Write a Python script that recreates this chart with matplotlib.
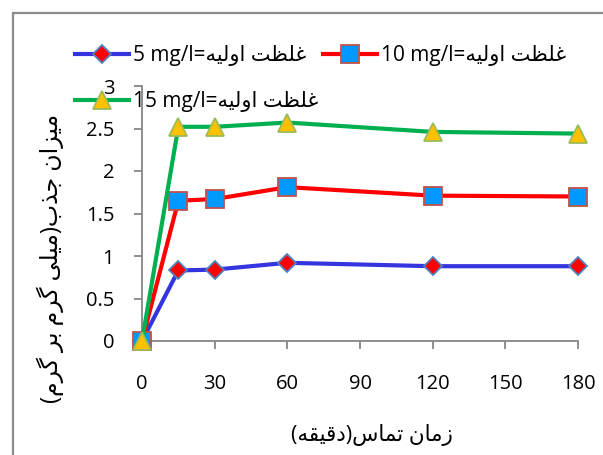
import matplotlib
matplotlib.use('Agg')
import matplotlib.pyplot as plt
from matplotlib.patches import Rectangle


# contact time (min) and adsorbed amount (mg/g) for three initial concentrations
TIME = [0, 15, 30, 60, 120, 180]
Q_5 = [0, 0.83, 0.84, 0.92, 0.88, 0.88]
Q_10 = [0, 1.65, 1.67, 1.81, 1.71, 1.70]
Q_15 = [0, 2.52, 2.52, 2.57, 2.46, 2.44]
CONC_LABELS = ['5 mg/l', '10 mg/l', '15 mg/l']
LEGEND_WORD = 'غلظت اولیه'
X_LABEL = 'زمان تماس(دقیقه)'
Y_LABEL = 'میزان جذب(میلی گرم بر گرم)'
X_TICKS = [0, 30, 60, 90, 120, 150, 180]
Y_TICKS = [0, 0.5, 1, 1.5, 2, 2.5, 3]

TICK_SIZE = 14.5
LEGEND_SIZE = 15
AXIS_GREY = '#868686'

# isolated, final, initial, medial presentation forms
FORMS = {
    'ا': (0xFE8D, 0xFE8E, None, None),
    'ب': (0xFE8F, 0xFE90, 0xFE91, 0xFE92),
    'ت': (0xFE95, 0xFE96, 0xFE97, 0xFE98),
    'ج': (0xFE9D, 0xFE9E, 0xFE9F, 0xFEA0),
    'د': (0xFEA9, 0xFEAA, None, None),
    'ذ': (0xFEAB, 0xFEAC, None, None),
    'ر': (0xFEAD, 0xFEAE, None, None),
    'ز': (0xFEAF, 0xFEB0, None, None),
    'س': (0xFEB1, 0xFEB2, 0xFEB3, 0xFEB4),
    'ظ': (0xFEC5, 0xFEC6, 0xFEC7, 0xFEC8),
    'غ': (0xFECD, 0xFECE, 0xFECF, 0xFED0),
    'ق': (0xFED5, 0xFED6, 0xFED7, 0xFED8),
    'ل': (0xFEDD, 0xFEDE, 0xFEDF, 0xFEE0),
    'م': (0xFEE1, 0xFEE2, 0xFEE3, 0xFEE4),
    'ن': (0xFEE5, 0xFEE6, 0xFEE7, 0xFEE8),
    'ه': (0xFEE9, 0xFEEA, 0xFEEB, 0xFEEC),
    'و': (0xFEED, 0xFEEE, None, None),
    'ی': (0xFBFC, 0xFBFD, 0xFBFE, 0xFBFF),
    'گ': (0xFB92, 0xFB93, 0xFB94, 0xFB95),
}


def rtl(text):
    # matplotlib has no arabic shaping: pick the joined forms and reverse by hand
    out = []
    for i, ch in enumerate(text):
        if ch not in FORMS:
            out.append(ch)
            continue
        prev = text[i - 1] if i > 0 else ''
        nxt = text[i + 1] if i + 1 < len(text) else ''
        join_prev = prev in FORMS and FORMS[prev][2] is not None
        join_next = nxt in FORMS and FORMS[ch][2] is not None
        forms = FORMS[ch]
        if join_prev and join_next:
            code = forms[3]
        elif join_prev:
            code = forms[1]
        elif join_next:
            code = forms[2]
        else:
            code = forms[0]
        out.append(chr(code))
    mirror = {'(': ')', ')': '('}
    return ''.join(mirror.get(c, c) for c in reversed(out))


def main():
    plt.rcParams['font.family'] = ['Open Sans', 'DejaVu Sans']
    fig = plt.figure(figsize=(6.03, 4.55), dpi=100)
    ax = fig.add_axes([142 / 603, 1 - 341 / 455, 436 / 603, 255 / 455])

    series = [
        (Q_5, '#3535e0', 'D', 'red', '#4f81bd', 9.5),
        (Q_10, 'red', 's', '#0099ff', '#c0504d', 12.5),
        (Q_15, '#00b050', '^', '#ffc000', '#9bbb59', 12.5),
    ]
    handles = []
    for (values, line_c, mk, face, edge, ms), conc in zip(series, CONC_LABELS):
        h, = ax.plot(TIME, values, color=line_c, lw=3.0, marker=mk, markersize=ms,
                     markerfacecolor=face, markeredgecolor=edge, markeredgewidth=1.3,
                     label=conc + '=' + rtl(LEGEND_WORD), clip_on=False, zorder=3)
        handles.append(h)

    ax.set_xlim(0, 180)
    ax.set_ylim(0, 3)
    ax.set_xticks(X_TICKS)
    ax.set_yticks(Y_TICKS)
    ax.set_yticklabels(['0', '0.5', '1', '1.5', '2', '2.5', '3'])
    ax.tick_params(axis='x', direction='out', length=6, width=1.3, color=AXIS_GREY,
                   pad=18, labelsize=TICK_SIZE)
    ax.tick_params(axis='y', direction='out', length=6, width=1.3, color=AXIS_GREY,
                   pad=14, labelsize=TICK_SIZE)
    for side in ('top', 'right'):
        ax.spines[side].set_visible(False)
    for side in ('left', 'bottom'):
        ax.spines[side].set_color(AXIS_GREY)
        ax.spines[side].set_linewidth(1.3)

    fig.text(372 / 603, 1 - 435 / 455, rtl(X_LABEL), ha='center', va='center',
             fontsize=15.5)
    fig.text(50 / 603, 1 - 258 / 455, rtl(Y_LABEL), ha='center', va='center',
             rotation=90, fontsize=17)

    # order so that row 1 holds 5 and 10 mg/l, row 2 holds 15 mg/l
    order = [0, 2, 1]
    fig.legend([handles[i] for i in order], [handles[i].get_label() for i in order],
               ncol=2, frameon=False, fontsize=LEGEND_SIZE, loc='upper left',
               bbox_to_anchor=(75 / 603, 1 - 45 / 455), borderaxespad=0,
               borderpad=0, handlelength=2.6, handletextpad=0.2,
               columnspacing=0.2, labelspacing=1.2)

    frame = Rectangle((12.5 / 603, -0.1), 1.2, 1.1 - 13 / 455, transform=fig.transFigure,
                      fill=False, edgecolor='#8c8c8c', lw=1.6, zorder=0)
    fig.patches.append(frame)

    fig.savefig('out.png', dpi=100)


if __name__ == '__main__':
    main()
